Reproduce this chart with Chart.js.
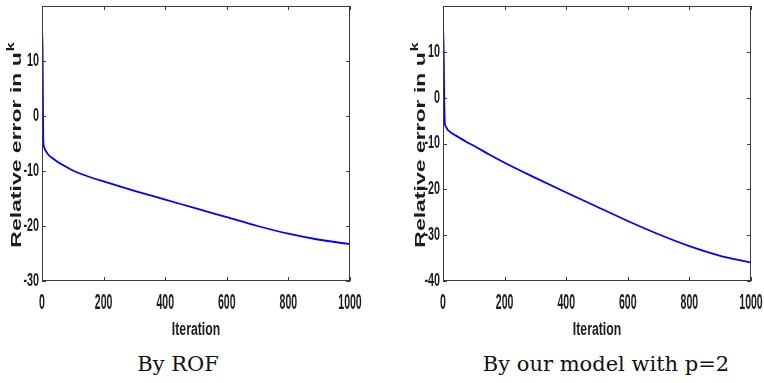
<!DOCTYPE html>
<html>
<head>
<meta charset="utf-8">
<script src="https://cdn.jsdelivr.net/npm/chart.js@4"></script>
<style>
  body { margin: 0; background: #fff; }
  #wrap { position: relative; width: 764px; height: 383px; overflow: hidden; }
  .plot { position: absolute; top: 0; width: 382px; height: 345px; }
  .cap { position: absolute; top: 350px; height: 28px; line-height: 28px; transform: translateX(-50%);
         font-family: 'DejaVu Serif', 'Liberation Serif', serif; font-size: 21px; color: #111; white-space: nowrap; }
</style>
</head>
<body>
<div id="wrap">
  <div class="plot" style="left:0"><canvas id="rof"></canvas></div>
  <div class="plot" style="left:382px"><canvas id="ours"></canvas></div>
  <div class="cap" style="left:178px">By ROF</div>
  <div class="cap" style="left:606px">By our model with p=2</div>
</div>
<script>
const iterations = [0, 2, 4, 6, 10, 15, 20, 30, 50, 75, 100, 150, 200, 300, 400, 500, 600, 700, 800, 900, 1000];
const rofError   = [15.8, 11.5, -4.0, -5.5, -6.1, -6.6, -7.0, -7.5, -8.3, -9.15, -9.9, -11.0, -11.9, -13.6, -15.2, -16.8, -18.4, -20.0, -21.4, -22.5, -23.3];
const oursError  = [15.8, 11.0, 0.0, -5.6, -6.4, -7.0, -7.3, -7.8, -8.6, -9.6, -10.5, -12.4, -14.2, -17.5, -20.7, -23.8, -26.9, -29.8, -32.4, -34.5, -36.0];
const xTicks = [0, 200, 400, 600, 800, 1000];
const yTicksRof = [-30, -20, -10, 0, 10];
const yTicksOurs = [-40, -30, -20, -10, 0, 10];

const ink = '#1c1c1c';

function squeezed(ctx, s, x, y, align, sx) {
  ctx.save();
  ctx.translate(x, y);
  ctx.scale(sx, 1);
  ctx.textAlign = align;
  ctx.textBaseline = 'middle';
  ctx.fillText(s, 0, 0);
  ctx.restore();
}

// matlab-ish box, inward ticks, narrow labels
const frame = {
  id: 'frame',
  afterDraw(chart, args, o) {
    const { ctx, chartArea: a, scales: { x, y } } = chart;
    ctx.save();
    ctx.strokeStyle = '#3a3a3a';
    ctx.lineWidth = 1;
    ctx.strokeRect(a.left + 0.5, a.top + 0.5, a.width - 1, a.height - 1);
    ctx.beginPath();
    x.ticks.forEach(t => {
      const px = Math.round(x.getPixelForValue(t.value)) + 0.5;
      ctx.moveTo(px, a.bottom); ctx.lineTo(px, a.bottom - 4);
      ctx.moveTo(px, a.top); ctx.lineTo(px, a.top + 4);
    });
    y.ticks.forEach(t => {
      const py = Math.round(y.getPixelForValue(t.value)) + 0.5;
      ctx.moveTo(a.left, py); ctx.lineTo(a.left + 4, py);
      ctx.moveTo(a.right, py); ctx.lineTo(a.right - 4, py);
    });
    ctx.stroke();

    ctx.fillStyle = ink;
    ctx.font = 'bold 22px "Liberation Sans", Arial, sans-serif';
    x.ticks.forEach(t => squeezed(ctx, String(t.value), x.getPixelForValue(t.value), a.bottom + 22, 'center', 0.48));
    ctx.font = 'bold 18px "Liberation Sans", Arial, sans-serif';
    y.ticks.forEach(t => squeezed(ctx, String(t.value), a.left - 3, y.getPixelForValue(t.value), 'right', 0.6));

    ctx.font = 'bold 18px "Liberation Sans", Arial, sans-serif';
    squeezed(ctx, 'Iteration', (a.left + a.right) / 2, a.bottom + 49, 'center', 0.68);

    // y title, rotated, with superscript k
    ctx.save();
    ctx.translate(o.titleX, (a.top + a.bottom) / 2 + 2);
    ctx.rotate(-Math.PI / 2);
    ctx.scale(1, 0.64);
    ctx.textBaseline = 'middle';
    ctx.font = 'bold 23px "Liberation Sans", Arial, sans-serif';
    const main = 'Relative error in u';
    const w = ctx.measureText(main).width;
    ctx.font = 'bold 16px "Liberation Sans", Arial, sans-serif';
    const kw = ctx.measureText('k').width;
    const start = -(w + kw) / 2;
    ctx.font = 'bold 23px "Liberation Sans", Arial, sans-serif';
    ctx.textAlign = 'left';
    ctx.fillText(main, start, 0);
    ctx.font = 'bold 16px "Liberation Sans", Arial, sans-serif';
    ctx.fillText('k', start + w + 1, -9);
    ctx.restore();
    ctx.restore();
  }
};

function makeChart(id, values, yMin, yTicks, axisW, padLeft, padRight, titleX) {
  return new Chart(document.getElementById(id), {
    type: 'line',
    data: {
      datasets: [{
        data: iterations.map((it, i) => ({ x: it, y: values[i] })),
        borderColor: '#0000ff',
        borderWidth: 1.8,
        pointRadius: 0,
        cubicInterpolationMode: 'monotone',
        fill: false
      }]
    },
    options: {
      responsive: true,
      maintainAspectRatio: false,
      animation: false,
      layout: { padding: { left: padLeft, right: padRight, top: 6, bottom: 0 } },
      plugins: { legend: { display: false }, tooltip: { enabled: false }, frame: { titleX: titleX } },
      scales: {
        x: {
          type: 'linear', min: 0, max: 1000,
          afterBuildTicks: s => { s.ticks = xTicks.map(v => ({ value: v })); },
          afterFit: s => { s.height = 64; },
          grid: { display: false }, border: { display: false },
          ticks: { display: false }
        },
        y: {
          min: yMin, max: 20,
          afterBuildTicks: s => { s.ticks = yTicks.map(v => ({ value: v })); },
          afterFit: s => { s.width = axisW; },
          grid: { display: false }, border: { display: false },
          ticks: { display: false }
        }
      }
    },
    plugins: [frame]
  });
}

makeChart('rof', rofError, -30, yTicksRof, 42, 0, 32, 17);
makeChart('ours', oursError, -40, yTicksOurs, 39, 22, 13, 39);
</script>
</body>
</html>
